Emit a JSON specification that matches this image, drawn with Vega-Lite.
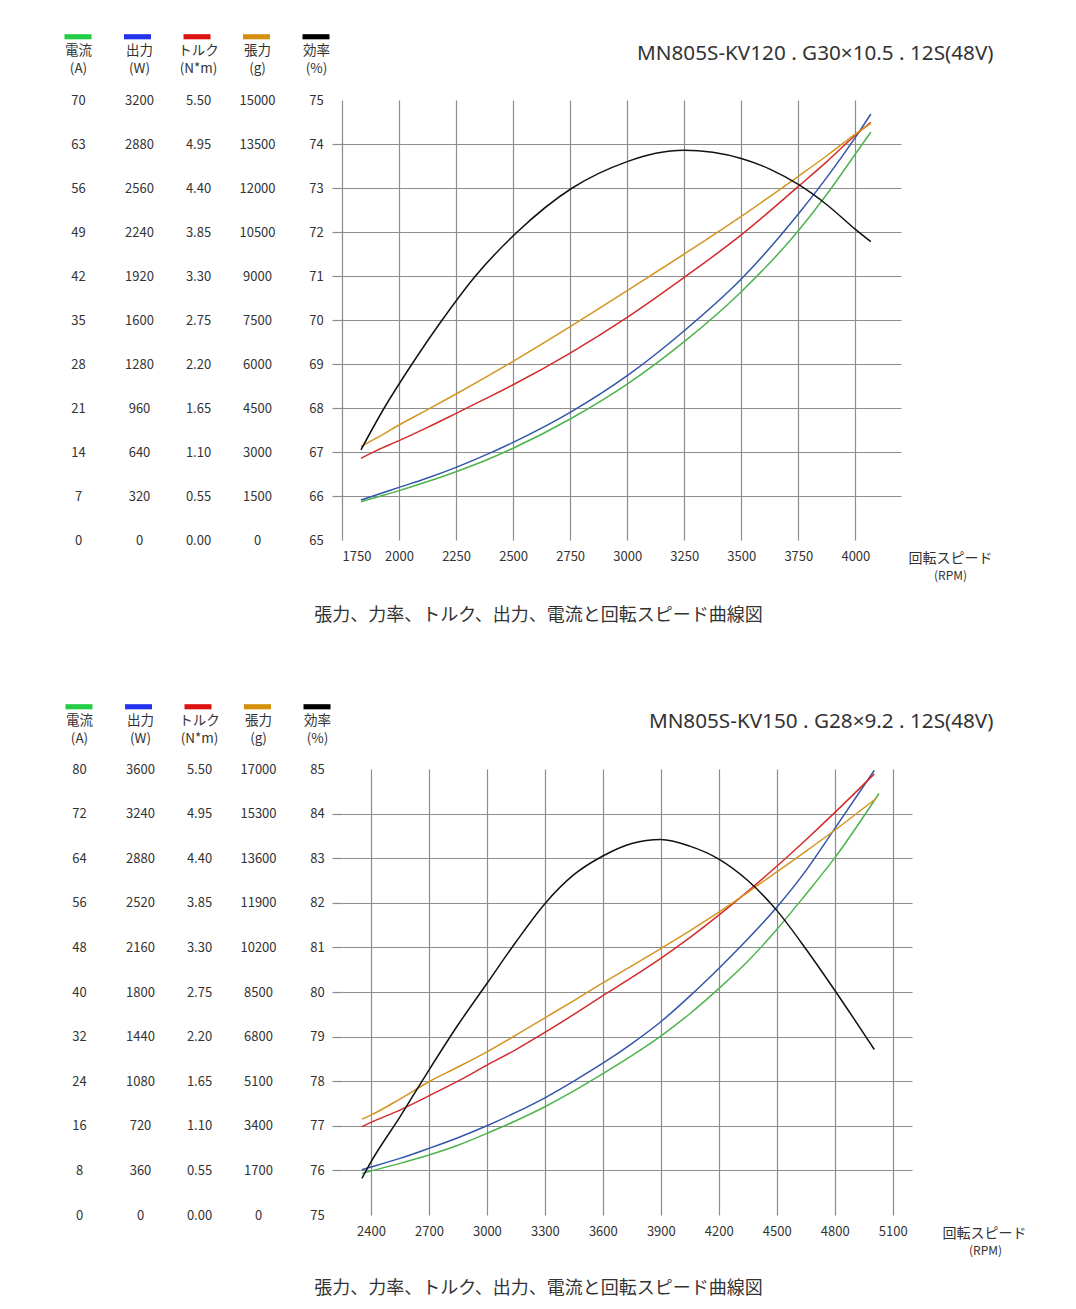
{
"$schema": "https://vega.github.io/schema/vega-lite/v6.json",
"background": "white",
"padding": {"left": 64, "top": 23, "right": 0, "bottom": 0},
"spacing": 69,
"resolve": {"scale": {"color": "independent"}, "legend": {"color": "independent"}},
"config": {
  "view": {"stroke": null},
  "font": "Noto Sans CJK JP",
  "axis": {"labelFontSize": 13, "labelColor": "#333333", "titleFontSize": 13.5, "titleFontWeight": "normal", "titleColor": "#333333", "domain": false, "ticks": false, "tickSize": 0, "labelFont": "Noto Sans CJK JP", "titleFont": "Noto Sans CJK JP"},
  "axisY": {"labelAlign": "center", "labelPadding": 0, "labelBaseline": "middle", "titleAngle": 0, "titleAlign": "center", "titleBaseline": "alphabetic", "titleLineHeight": 18, "grid": false},
  "axisX": {"grid": false, "titleAngle": 0, "titleBaseline": "alphabetic"}
},
"vconcat": [
{
  "width": 559, "height": 440,
  "data": {"values": [
    {"rpm": 1833, "current": 6.1, "power": 291, "torque": 1.021, "thrust": 3182, "eff": 67.05},
    {"rpm": 1900, "current": 6.8, "power": 327, "torque": 1.117, "thrust": 3470},
    {"rpm": 1935, "eff": 68.0},
    {"rpm": 2000, "current": 7.85, "power": 383, "torque": 1.242, "thrust": 3920},
    {"rpm": 2057, "eff": 69.0},
    {"rpm": 2125, "current": 9.3, "power": 451, "torque": 1.408, "thrust": 4443},
    {"rpm": 2189, "eff": 70.0},
    {"rpm": 2250, "current": 10.87, "power": 528, "torque": 1.583, "thrust": 4977},
    {"rpm": 2335, "eff": 71.0},
    {"rpm": 2375, "current": 12.6, "power": 615, "torque": 1.76, "thrust": 5530},
    {"rpm": 2500, "current": 14.6, "power": 710, "torque": 1.941, "thrust": 6091},
    {"rpm": 2518, "eff": 72.0},
    {"rpm": 2750, "current": 19.25, "power": 928, "torque": 2.337, "thrust": 7273},
    {"rpm": 2759, "eff": 73.0},
    {"rpm": 3000, "current": 24.8, "power": 1195, "torque": 2.783, "thrust": 8500, "eff": 73.6},
    {"rpm": 3125, "eff": 73.79},
    {"rpm": 3250, "current": 31.55, "power": 1522, "torque": 3.283, "thrust": 9750, "eff": 73.86},
    {"rpm": 3375, "eff": 73.81},
    {"rpm": 3500, "current": 39.5, "power": 1898, "torque": 3.813, "thrust": 11034, "eff": 73.67},
    {"rpm": 3625, "eff": 73.43},
    {"rpm": 3750, "current": 49.2, "power": 2371, "torque": 4.42, "thrust": 12400, "eff": 73.08},
    {"rpm": 3875, "current": 55.0, "power": 2637, "torque": 4.73, "thrust": 13100, "eff": 72.62},
    {"rpm": 4000, "current": 61.4, "power": 2928, "torque": 5.06, "thrust": 13840, "eff": 72.06},
    {"rpm": 4068, "current": 64.9, "power": 3098, "torque": 5.22, "thrust": 14205, "eff": 71.78}
  ]},
  "layer": [
    {
      "data": {"values": [{"s": "電流"}, {"s": "出力"}, {"s": "トルク"}, {"s": "張力"}, {"s": "効率"}]},
      "mark": {"type": "point", "filled": true, "opacity": 0},
      "encoding": {
        "color": {"field": "s", "type": "nominal",
          "scale": {"domain": ["電流", "出力", "トルク", "張力", "効率"], "range": ["#22cc44", "#2233ee", "#dd1111", "#d4900a", "#000000"]},
          "legend": {"orient": "none", "legendX": -277.5, "legendY": -77, "direction": "horizontal", "title": null,
            "symbolType": "M-1,-0.19H1V0.19H-1Z", "symbolSize": 729, "symbolStrokeWidth": 0, "symbolOpacity": 1,
            "labelExpr": "''", "labelOffset": 0, "columnPadding": 32.5, "padding": 0}}
      }
    },
    {
      "transform": [{"filter": "isValid(datum.current)"}],
      "mark": {"type": "line", "color": "#4db34d", "strokeWidth": 1.5, "interpolate": "monotone"},
      "encoding": {
        "x": {"field": "rpm", "type": "quantitative", "scale": {"domain": [1750, 4200], "nice": false, "zero": false},
          "axis": {"orient": "bottom", "values": [1750, 2000, 2250, 2500, 2750, 3000, 3250, 3500, 3750, 4000], "format": "d", "grid": true, "gridColor": "#8c8c8c", "gridWidth": 1.2, "labelPadding": 10,
            "title": "回転スピード", "titleX": 566, "titleY": 22, "titleAlign": "left", "titleFontSize": 14}},
        "y": {"field": "current", "type": "quantitative", "scale": {"domain": [0, 70], "nice": false, "zero": false},
          "axis": {"orient": "left", "offset": 264, "values": [0, 7, 14, 21, 28, 35, 42, 49, 56, 63, 70], "format": "d", "title": ["電流", "(A)"], "titleX": 0, "titleY": -46}}
      }
    },
    {
      "transform": [{"filter": "isValid(datum.power)"}],
      "mark": {"type": "line", "color": "#3355aa", "strokeWidth": 1.5, "interpolate": "monotone"},
      "encoding": {
        "x": {"field": "rpm", "type": "quantitative", "scale": {"domain": [1750, 4200], "nice": false, "zero": false},
          "axis": {"orient": "bottom", "labels": false, "grid": false, "title": "(RPM)", "titleX": 608, "titleY": 39, "titleAlign": "center", "titleFontSize": 12}},
        "y": {"field": "power", "type": "quantitative", "scale": {"domain": [0, 3200], "nice": false, "zero": false},
          "axis": {"orient": "left", "offset": 203, "values": [0, 320, 640, 960, 1280, 1600, 1920, 2240, 2560, 2880, 3200], "format": "d", "title": ["出力", "(W)"], "titleX": 0, "titleY": -46}}
      }
    },
    {
      "transform": [{"filter": "isValid(datum.torque)"}],
      "mark": {"type": "line", "color": "#d42b2b", "strokeWidth": 1.5, "interpolate": "monotone"},
      "encoding": {
        "x": {"field": "rpm", "type": "quantitative", "scale": {"domain": [1750, 4200], "nice": false, "zero": false},
          "axis": {"orient": "bottom", "labels": false, "grid": false, "title": "張力、力率、トルク、出力、電流と回転スピード曲線図", "titleX": 196, "titleY": 80, "titleAlign": "center", "titleFontSize": 18}},
        "y": {"field": "torque", "type": "quantitative", "scale": {"domain": [0, 5.5], "nice": false, "zero": false},
          "axis": {"orient": "left", "offset": 144, "values": [0, 0.55, 1.1, 1.65, 2.2, 2.75, 3.3, 3.85, 4.4, 4.95, 5.5], "format": ".2f", "title": ["トルク", "(N*m)"], "titleX": 0, "titleY": -46}}
      }
    },
    {
      "transform": [{"filter": "isValid(datum.thrust)"}],
      "mark": {"type": "line", "color": "#d49520", "strokeWidth": 1.5, "interpolate": "monotone"},
      "encoding": {
        "x": {"field": "rpm", "type": "quantitative", "scale": {"domain": [1750, 4200], "nice": false, "zero": false},
          "axis": {"orient": "top", "labels": false, "grid": false, "title": "MN805S-KV120 . G30×10.5 . 12S(48V)", "titleFont": "Noto Sans", "titleX": 651, "titleY": -41, "titleAlign": "right", "titleFontSize": 20.7}},
        "y": {"field": "thrust", "type": "quantitative", "scale": {"domain": [0, 15000], "nice": false, "zero": false},
          "axis": {"orient": "left", "offset": 85, "values": [0, 1500, 3000, 4500, 6000, 7500, 9000, 10500, 12000, 13500, 15000], "format": "d", "title": ["張力", "(g)"], "titleX": 0, "titleY": -46}}
      }
    },
    {
      "transform": [{"filter": "isValid(datum.eff)"}],
      "mark": {"type": "line", "color": "#111111", "strokeWidth": 1.5, "interpolate": "monotone"},
      "encoding": {
        "x": {"field": "rpm", "type": "quantitative", "scale": {"domain": [1750, 4200], "nice": false, "zero": false}, "axis": null},
        "y": {"field": "eff", "type": "quantitative", "scale": {"domain": [65, 75], "nice": false, "zero": false},
          "axis": {"orient": "left", "offset": 0, "values": [65, 66, 67, 68, 69, 70, 71, 72, 73, 74, 75], "format": "d",
            "grid": true, "gridColor": "#8c8c8c", "gridWidth": 1.2,
            "gridOpacity": {"condition": {"test": "datum.value == 65 || datum.value == 75", "value": 0}, "value": 1},
            "ticks": true, "tickSize": 10, "tickColor": "#8c8c8c", "tickWidth": 1.2,
            "tickOpacity": {"condition": {"test": "datum.value == 65 || datum.value == 75", "value": 0}, "value": 1},
            "labelPadding": 16, "title": ["効率", "(%)"], "titleX": -26, "titleY": -46}}
      }
    }
  ],
  "resolve": {"scale": {"y": "independent"}, "axis": {"x": "independent", "y": "independent"}}
},
{
  "width": 570, "height": 446,
  "data": {"values": [
    {"rpm": 2353, "current": 7.47, "power": 366, "torque": 1.089, "thrust": 3656, "eff": 75.82},
    {"rpm": 2400, "current": 7.9, "power": 387, "torque": 1.142, "thrust": 3809, "eff": 76.19},
    {"rpm": 2550, "current": 9.26, "power": 457, "torque": 1.294, "thrust": 4420, "eff": 77.2},
    {"rpm": 2700, "current": 10.75, "power": 538, "torque": 1.47, "thrust": 5078, "eff": 78.25},
    {"rpm": 2850, "current": 12.5, "power": 624, "torque": 1.651, "thrust": 5640, "eff": 79.26},
    {"rpm": 3000, "current": 14.64, "power": 720, "torque": 1.848, "thrust": 6221, "eff": 80.19},
    {"rpm": 3150, "current": 16.9, "power": 828, "torque": 2.04, "thrust": 6856, "eff": 81.12},
    {"rpm": 3300, "current": 19.42, "power": 946, "torque": 2.251, "thrust": 7515, "eff": 81.98},
    {"rpm": 3450, "current": 22.25, "power": 1081, "torque": 2.474, "thrust": 8175, "eff": 82.63},
    {"rpm": 3600, "current": 25.35, "power": 1225, "torque": 2.705, "thrust": 8849, "eff": 83.05},
    {"rpm": 3750, "current": 28.6, "power": 1384, "torque": 2.93, "thrust": 9497, "eff": 83.33},
    {"rpm": 3900, "current": 32.1, "power": 1560, "torque": 3.165, "thrust": 10157, "eff": 83.42},
    {"rpm": 4050, "current": 36.1, "power": 1767, "torque": 3.42, "thrust": 10830, "eff": 83.27},
    {"rpm": 4200, "current": 40.6, "power": 1990, "torque": 3.697, "thrust": 11540, "eff": 82.98},
    {"rpm": 4350, "current": 45.5, "power": 2227, "torque": 3.99, "thrust": 12300, "eff": 82.5},
    {"rpm": 4500, "current": 51.2, "power": 2484, "torque": 4.3, "thrust": 13077, "eff": 81.83},
    {"rpm": 4650, "current": 57.5, "power": 2778, "torque": 4.625, "thrust": 13860, "eff": 80.97},
    {"rpm": 4800, "current": 64.05, "power": 3119, "torque": 4.962, "thrust": 14666, "eff": 80.04},
    {"rpm": 5005, "power": 3589, "torque": 5.44, "eff": 78.71},
    {"rpm": 5017, "thrust": 15895},
    {"rpm": 5029, "current": 75.6}
  ]},
  "layer": [
    {
      "data": {"values": [{"s": "電流"}, {"s": "出力"}, {"s": "トルク"}, {"s": "張力"}, {"s": "効率"}]},
      "mark": {"type": "point", "filled": true, "opacity": 0},
      "encoding": {
        "color": {"field": "s", "type": "nominal",
          "scale": {"domain": ["電流", "出力", "トルク", "張力", "効率"], "range": ["#22cc44", "#2233ee", "#dd1111", "#d4900a", "#000000"]},
          "legend": {"orient": "none", "legendX": -276.5, "legendY": -76, "direction": "horizontal", "title": null,
            "symbolType": "M-1,-0.19H1V0.19H-1Z", "symbolSize": 729, "symbolStrokeWidth": 0, "symbolOpacity": 1,
            "labelExpr": "''", "labelOffset": 0, "columnPadding": 32.5, "padding": 0}}
      }
    },
    {
      "transform": [{"filter": "isValid(datum.current)"}],
      "mark": {"type": "line", "color": "#4db34d", "strokeWidth": 1.5, "interpolate": "monotone"},
      "encoding": {
        "x": {"field": "rpm", "type": "quantitative", "scale": {"domain": [2250, 5200], "nice": false, "zero": false},
          "axis": {"orient": "bottom", "values": [2400, 2700, 3000, 3300, 3600, 3900, 4200, 4500, 4800, 5100], "format": "d", "grid": true, "gridColor": "#8c8c8c", "gridWidth": 1.2, "labelPadding": 10,
            "title": "回転スピード", "titleX": 600, "titleY": 22, "titleAlign": "left", "titleFontSize": 14}},
        "y": {"field": "current", "type": "quantitative", "scale": {"domain": [0, 80], "nice": false, "zero": false},
          "axis": {"orient": "left", "offset": 263, "values": [0, 8, 16, 24, 32, 40, 48, 56, 64, 72, 80], "format": "d", "title": ["電流", "(A)"], "titleX": 0, "titleY": -45}}
      }
    },
    {
      "transform": [{"filter": "isValid(datum.power)"}],
      "mark": {"type": "line", "color": "#3355aa", "strokeWidth": 1.5, "interpolate": "monotone"},
      "encoding": {
        "x": {"field": "rpm", "type": "quantitative", "scale": {"domain": [2250, 5200], "nice": false, "zero": false},
          "axis": {"orient": "bottom", "labels": false, "grid": false, "title": "(RPM)", "titleX": 643, "titleY": 39, "titleAlign": "center", "titleFontSize": 12}},
        "y": {"field": "power", "type": "quantitative", "scale": {"domain": [0, 3600], "nice": false, "zero": false},
          "axis": {"orient": "left", "offset": 202, "values": [0, 360, 720, 1080, 1440, 1800, 2160, 2520, 2880, 3240, 3600], "format": "d", "title": ["出力", "(W)"], "titleX": 0, "titleY": -45}}
      }
    },
    {
      "transform": [{"filter": "isValid(datum.torque)"}],
      "mark": {"type": "line", "color": "#d42b2b", "strokeWidth": 1.5, "interpolate": "monotone"},
      "encoding": {
        "x": {"field": "rpm", "type": "quantitative", "scale": {"domain": [2250, 5200], "nice": false, "zero": false},
          "axis": {"orient": "bottom", "labels": false, "grid": false, "title": "張力、力率、トルク、出力、電流と回転スピード曲線図", "titleX": 196, "titleY": 78, "titleAlign": "center", "titleFontSize": 18}},
        "y": {"field": "torque", "type": "quantitative", "scale": {"domain": [0, 5.5], "nice": false, "zero": false},
          "axis": {"orient": "left", "offset": 143, "values": [0, 0.55, 1.1, 1.65, 2.2, 2.75, 3.3, 3.85, 4.4, 4.95, 5.5], "format": ".2f", "title": ["トルク", "(N*m)"], "titleX": 0, "titleY": -45}}
      }
    },
    {
      "transform": [{"filter": "isValid(datum.thrust)"}],
      "mark": {"type": "line", "color": "#d49520", "strokeWidth": 1.5, "interpolate": "monotone"},
      "encoding": {
        "x": {"field": "rpm", "type": "quantitative", "scale": {"domain": [2250, 5200], "nice": false, "zero": false},
          "axis": {"orient": "top", "labels": false, "grid": false, "title": "MN805S-KV150 . G28×9.2 . 12S(48V)", "titleFont": "Noto Sans", "titleX": 651, "titleY": -42, "titleAlign": "right", "titleFontSize": 20.7}},
        "y": {"field": "thrust", "type": "quantitative", "scale": {"domain": [0, 17000], "nice": false, "zero": false},
          "axis": {"orient": "left", "offset": 84, "values": [0, 1700, 3400, 5100, 6800, 8500, 10200, 11900, 13600, 15300, 17000], "format": "d", "title": ["張力", "(g)"], "titleX": 0, "titleY": -45}}
      }
    },
    {
      "transform": [{"filter": "isValid(datum.eff)"}],
      "mark": {"type": "line", "color": "#111111", "strokeWidth": 1.5, "interpolate": "monotone"},
      "encoding": {
        "x": {"field": "rpm", "type": "quantitative", "scale": {"domain": [2250, 5200], "nice": false, "zero": false}, "axis": null},
        "y": {"field": "eff", "type": "quantitative", "scale": {"domain": [75, 85], "nice": false, "zero": false},
          "axis": {"orient": "left", "offset": 0, "values": [75, 76, 77, 78, 79, 80, 81, 82, 83, 84, 85], "format": "d",
            "grid": true, "gridColor": "#8c8c8c", "gridWidth": 1.2,
            "gridOpacity": {"condition": {"test": "datum.value == 75 || datum.value == 85", "value": 0}, "value": 1},
            "ticks": true, "tickSize": 10, "tickColor": "#8c8c8c", "tickWidth": 1.2,
            "tickOpacity": {"condition": {"test": "datum.value == 75 || datum.value == 85", "value": 0}, "value": 1},
            "labelPadding": 15, "title": ["効率", "(%)"], "titleX": -25, "titleY": -45}}
      }
    }
  ],
  "resolve": {"scale": {"y": "independent"}, "axis": {"x": "independent", "y": "independent"}}
}
]
}
